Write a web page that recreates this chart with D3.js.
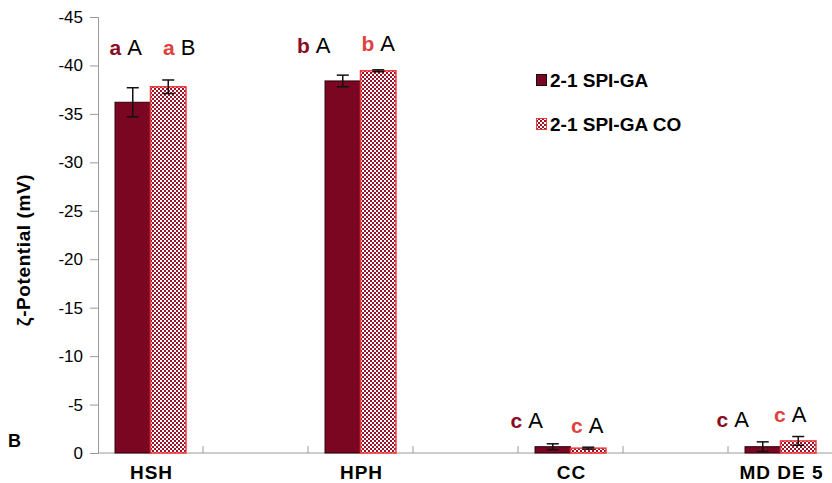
<!DOCTYPE html>
<html>
<head>
<meta charset="utf-8">
<script src="https://cdn.jsdelivr.net/npm/d3@7/dist/d3.min.js"></script>
<style>
  html, body { margin: 0; padding: 0; background: #fff; }
  svg { display: block; font-family: "Liberation Sans", Arial, sans-serif; }
</style>
</head>
<body>
<svg id="chart" width="832" height="483"></svg>
<script>
// Zeta potential of 2:1 SPI-GA complexes with and without coacervate oil
const categories = ["HSH", "HPH", "CC", "MD DE 5"];
const seriesNames = ["2-1 SPI-GA", "2-1 SPI-GA CO"];
const spiGA     = [-36.2, -38.4, -0.65, -0.65];
const spiGAErr  = [1.5, 0.6, 0.3, 0.5];
const spiGACO   = [-37.8, -39.45, -0.5, -1.25];
const spiGACOErr = [0.7, 0.1, 0.1, 0.45];
const lettersLower = [["a", "b", "c", "c"], ["a", "b", "c", "c"]];
const lettersUpper = [["A", "A", "A", "A"], ["B", "A", "A", "A"]];
const yTicks = [0, -5, -10, -15, -20, -25, -30, -35, -40, -45];

const svg = d3.select("#chart");
const maroon = "#7a0622";
const red = "#f03a3a";

// checkerboard fill for the CO series
const defs = svg.append("defs");
const pat = defs.append("pattern")
  .attr("id", "checker").attr("patternUnits", "userSpaceOnUse")
  .attr("width", 4).attr("height", 4);
pat.append("rect").attr("width", 4).attr("height", 4).attr("fill", "#9a1228");
pat.append("rect").attr("x", 0).attr("y", 0).attr("width", 2).attr("height", 2).attr("fill", "#fff");
pat.append("rect").attr("x", 2).attr("y", 2).attr("width", 2).attr("height", 2).attr("fill", "#fff");

// each category sits in every other slot along the axis
const slots = [];
categories.forEach((c, i) => { slots.push(c); if (i < categories.length - 1) slots.push("gap" + i); });

const x = d3.scaleBand().domain(slots).range([98, 833]).padding(0);
const xs = d3.scaleBand().domain(seriesNames).range([0, x.bandwidth()])
  .paddingInner(0).paddingOuter(0.48);
const y = d3.scaleLinear().domain([0, -45]).range([453, 17]);

// y axis
const yAxis = svg.append("g").attr("transform", "translate(98,0)")
  .call(d3.axisLeft(y).tickValues(yTicks).tickSize(8).tickPadding(7).tickFormat(d => String(d)));
yAxis.select(".domain").attr("stroke", "#9a9a9a");
yAxis.selectAll(".tick line").attr("stroke", "#9a9a9a");
yAxis.selectAll(".tick text").attr("font-size", 17).attr("fill", "#000")
  .attr("font-family", "Liberation Sans, Arial, sans-serif");

// x axis baseline with inward ticks at slot boundaries
const xBase = svg.append("g");
xBase.append("line").attr("x1", 98).attr("x2", 832).attr("y1", y(0)).attr("y2", y(0))
  .attr("stroke", "#9a9a9a");
slots.forEach(s => {
  const bx = x(s) + x.bandwidth();
  xBase.append("line").attr("x1", bx).attr("x2", bx).attr("y1", y(0)).attr("y2", y(0) - 7)
    .attr("stroke", "#9a9a9a");
});
categories.forEach(c => {
  svg.append("text").attr("x", x(c) + x.bandwidth() / 2 + 1).attr("y", 479)
    .attr("text-anchor", "middle").attr("font-size", 19).attr("font-weight", "bold")
    .attr("letter-spacing", 1).text(c);
});

// bars
const series = [
  { name: seriesNames[0], vals: spiGA, errs: spiGAErr, fill: maroon, stroke: "#2a0008", lowerColor: "#8a0c22" },
  { name: seriesNames[1], vals: spiGACO, errs: spiGACOErr, fill: "url(#checker)", stroke: red, lowerColor: "#e04040" }
];

// label pixel offsets from the bar centre / error-bar top, per series and category
const labelDx = [[-7, -29, -26, -30], [11, 0, -1, -8]];
const labelBaseline = (si, ci, topY) => {
  const lifts = [[33, 22, 16, 15], [25, 19, 14, 15]];
  return topY - lifts[si][ci];
};

series.forEach((s, si) => {
  const g = svg.append("g");
  categories.forEach((c, ci) => {
    const bx = x(c) + xs(s.name);
    const bw = xs.bandwidth();
    const v = s.vals[ci];
    g.append("rect").attr("x", bx).attr("y", y(v)).attr("width", bw)
      .attr("height", y(0) - y(v)).attr("fill", s.fill)
      .attr("stroke", s.stroke).attr("stroke-width", si === 0 ? 1 : 1.5);

    // error bar
    const cx = bx + bw / 2;
    const e = s.errs[ci];
    const yt = y(v - e), yb = y(Math.min(0, v + e));
    g.append("line").attr("x1", cx).attr("x2", cx).attr("y1", yt).attr("y2", yb)
      .attr("stroke", "#111").attr("stroke-width", 1.5);
    [yt, yb].forEach(yy => g.append("line").attr("x1", cx - 6).attr("x2", cx + 6)
      .attr("y1", yy).attr("y2", yy).attr("stroke", "#111").attr("stroke-width", 1.5));

    // significance letters
    const ly = labelBaseline(si, ci, yt);
    const t = g.append("text").attr("x", cx + labelDx[si][ci]).attr("y", ly)
      .attr("text-anchor", "middle");
    t.append("tspan").attr("font-size", 21).attr("font-weight", "bold")
      .attr("fill", s.lowerColor).text(lettersLower[si][ci]);
    t.append("tspan").attr("font-size", 22).attr("fill", "#000").attr("dx", 6)
      .text(lettersUpper[si][ci]);
  });
});

// legend
const legend = svg.append("g").attr("transform", "translate(536,74)");
series.forEach((s, i) => {
  const row = legend.append("g").attr("transform", `translate(0,${i * 44})`);
  row.append("rect").attr("x", 0.5).attr("y", 0.5).attr("width", 10).attr("height", 11)
    .attr("fill", s.fill).attr("stroke", i === 0 ? "#111" : red);
  row.append("text").attr("x", 14).attr("y", 13).attr("font-size", 19)
    .attr("font-weight", "bold").text(s.name);
});

// axis title and panel letter
svg.append("text").attr("transform", "translate(30,250) rotate(-90)")
  .attr("text-anchor", "middle").attr("font-size", 19).attr("font-weight", "bold")
  .attr("letter-spacing", 0.6)
  .text("ζ-Potential (mV)");
svg.append("text").attr("x", 8).attr("y", 447).attr("font-size", 18)
  .attr("font-weight", "bold").text("B");
</script>
</body>
</html>
